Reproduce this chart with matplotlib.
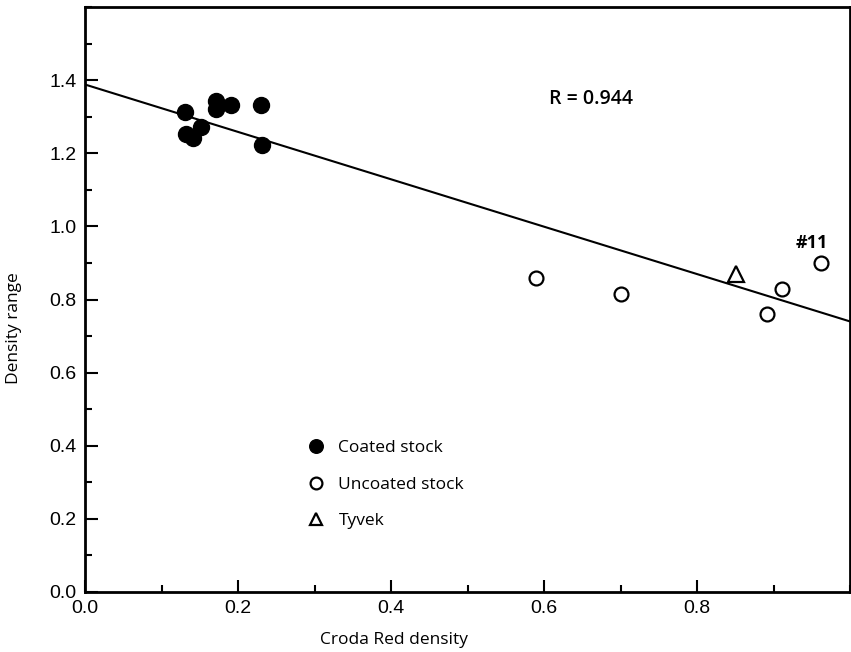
import matplotlib
matplotlib.use("Agg")
from matplotlib import pyplot as plt
from matplotlib.ticker import MultipleLocator
import numpy as np

# values
coated_x = [0.131, 0.132, 0.141, 0.152, 0.171, 0.171, 0.191, 0.230, 0.231]
coated_y = [1.312, 1.252, 1.241, 1.271, 1.342, 1.321, 1.332, 1.332, 1.222]
uncoated_x = [0.590, 0.700, 0.891, 0.911, 0.962]
uncoated_y = [0.858, 0.816, 0.759, 0.830, 0.899]
tyvek_x = [0.851]
tyvek_y = [0.871]
fit_intercept = 1.388
fit_slope = -0.648
r_text = "R = 0.944"
label_font = "Open Sans"
tick_font = "Liberation Sans"

fig = plt.figure(figsize=(8.51, 6.52), dpi=100)
ax = fig.add_axes([85 / 851, 60 / 652, 765 / 851, 585 / 652])

xs = np.array([0.0, 1.0])
ax.plot(xs, fit_intercept + fit_slope * xs, color="black", lw=1.5, zorder=1)

ax.plot(coated_x, coated_y, "o", ms=11.5, mfc="black", mec="black",
        ls="none", label="Coated stock", zorder=3)
ax.plot(uncoated_x, uncoated_y, "o", ms=10, mfc="white", mec="black",
        mew=1.6, ls="none", label="Uncoated stock", zorder=3)
ax.plot(tyvek_x, tyvek_y, "^", ms=11, mfc="white", mec="black",
        mew=1.6, ls="none", label="Tyvek", zorder=3)

ax.text(0.661, 1.348, r_text, fontsize=14, family=label_font,
        fontweight="semibold", ha="center", va="center")
ax.text(0.950, 0.955, "#11", fontsize=13, family=label_font,
        fontweight="bold", ha="center", va="center")

ax.set_xlim(0, 1.0)
ax.set_ylim(0, 1.6)
ax.xaxis.set_major_locator(MultipleLocator(0.2))
ax.xaxis.set_minor_locator(MultipleLocator(0.1))
ax.yaxis.set_major_locator(MultipleLocator(0.2))
ax.yaxis.set_minor_locator(MultipleLocator(0.1))
ax.set_xticks([0.0, 0.2, 0.4, 0.6, 0.8])
ax.set_yticks([0.0, 0.2, 0.4, 0.6, 0.8, 1.0, 1.2, 1.4])
ax.xaxis.set_major_formatter(lambda v, p: f"{v:.1f}")
ax.yaxis.set_major_formatter(lambda v, p: f"{v:.1f}")

ax.tick_params(which="both", direction="in", top=False, right=False,
               width=1.5, labelsize=14)
ax.tick_params(which="major", length=9, pad=6)
ax.tick_params(which="minor", length=5)
for lab in ax.get_xticklabels() + ax.get_yticklabels():
    lab.set_family(tick_font)

for sp in ax.spines.values():
    sp.set_linewidth(2)

ax.set_xlabel("Croda Red density", fontsize=12.5, family=label_font)
ax.set_ylabel("Density range", fontsize=12.5, family=label_font)
ax.xaxis.set_label_coords(0.404, -0.068)
ax.yaxis.set_label_coords(-0.083, 0.451)

ax.legend(loc="upper left", bbox_to_anchor=(0.27, 0.286), frameon=False,
          handlelength=1.0, handletextpad=0.8, labelspacing=1.15,
          prop={"family": label_font, "size": 12.5}, markerscale=0.85)

fig.savefig("out.png", dpi=100)
